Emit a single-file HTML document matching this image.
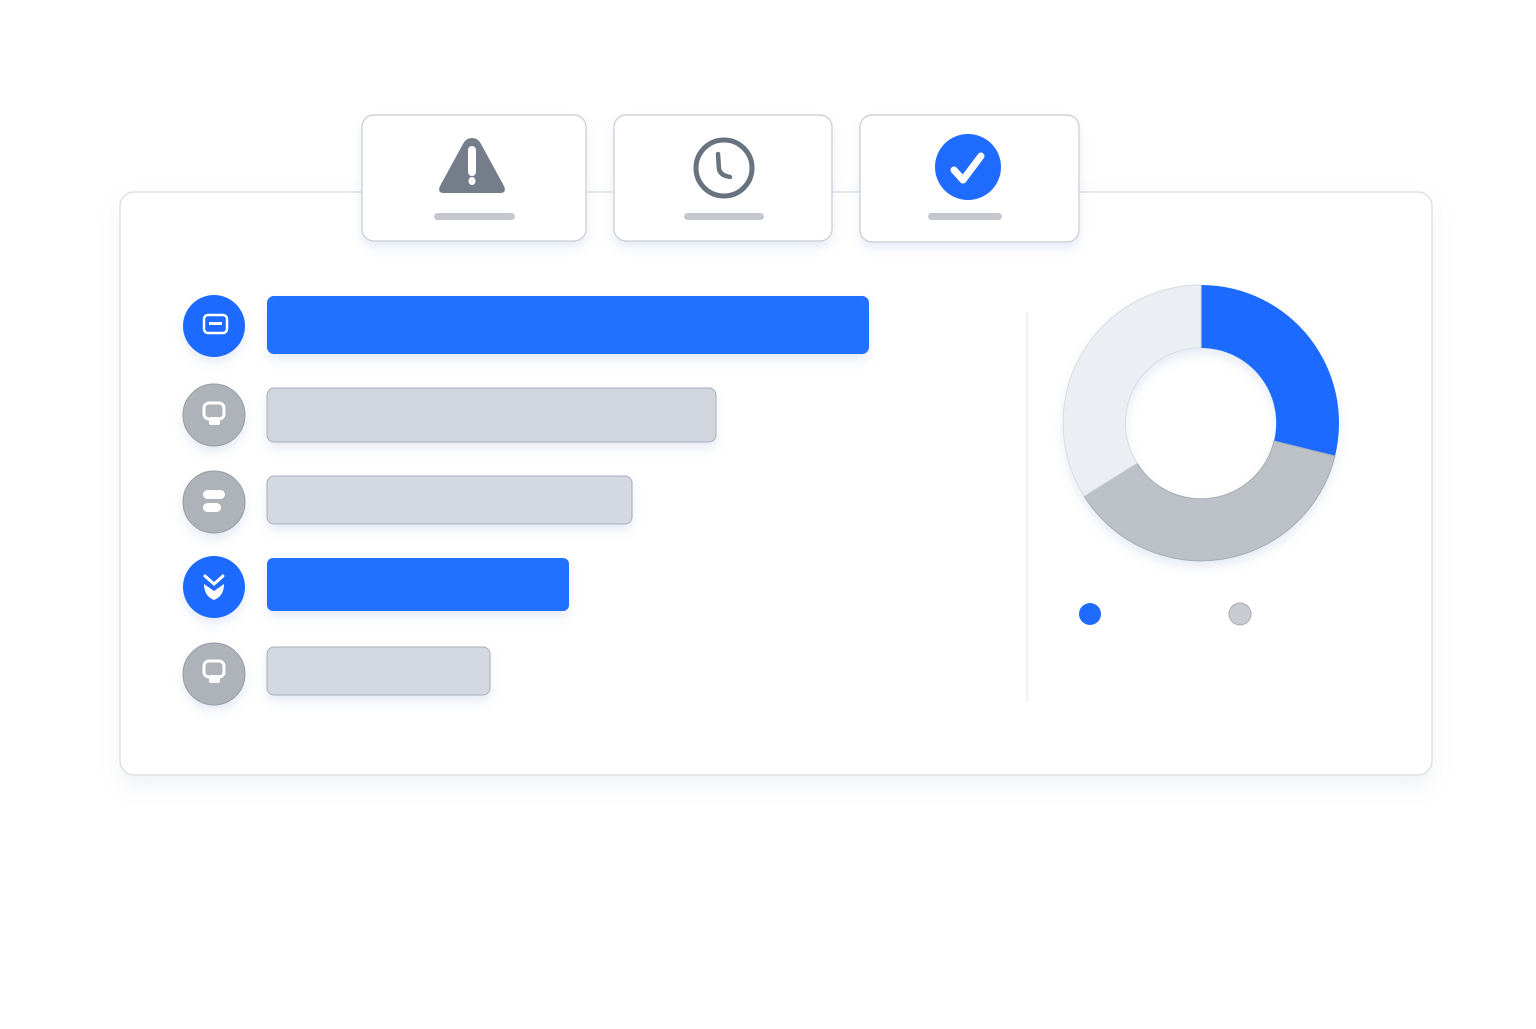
<!DOCTYPE html>
<html><head><meta charset="utf-8"><style>
html,body{margin:0;padding:0;background:#fff;}
body{width:1536px;height:1024px;position:relative;overflow:hidden;font-family:"Liberation Sans",sans-serif;}
</style></head><body>
<svg width="1536" height="1024" viewBox="0 0 1536 1024" xmlns="http://www.w3.org/2000/svg">
<defs>
<filter id="sh" x="-10%" y="-10%" width="120%" height="130%"><feDropShadow dx="0" dy="10" stdDeviation="10" flood-color="#8090b0" flood-opacity="0.12"/></filter>
<filter id="sh2" x="-20%" y="-20%" width="140%" height="160%"><feDropShadow dx="0" dy="6" stdDeviation="5" flood-color="#6080c0" flood-opacity="0.15"/></filter>
</defs>
<!-- main panel -->
<rect x="120" y="192" width="1312" height="583" rx="14" fill="#fff" stroke="#d8dbe0" stroke-width="1.2" filter="url(#sh)"/>
<line x1="1027" y1="312" x2="1027" y2="702" stroke="#eceef1" stroke-width="1.5"/>
<!-- top cards -->
<g filter="url(#sh2)">
<rect x="362" y="115" width="224" height="126" rx="12" fill="#fff" stroke="#c9ccd2" stroke-width="1.2"/>
<rect x="614" y="115" width="218" height="126" rx="12" fill="#fff" stroke="#c9ccd2" stroke-width="1.2"/>
<rect x="860" y="115" width="219" height="127" rx="12" fill="#fff" stroke="#c9ccd2" stroke-width="1.2"/>
</g>
<!-- warning -->
<path d="M472 138 Q478 138 481 144 L504 186 Q507 193 500 193 L444 193 Q437 193 440 186 L463 144 Q466 138 472 138 Z" fill="#747d8a"/>
<rect x="468" y="146" width="8" height="30" rx="4" fill="#fff"/>
<ellipse cx="472" cy="181" rx="3.5" ry="4" fill="#fff"/>
<rect x="434" y="213" width="81" height="7" rx="3.5" fill="#c4c8ce"/>
<!-- clock -->
<circle cx="724" cy="168" r="28" fill="#fff" stroke="#697380" stroke-width="5"/>
<path d="M718 154 L719 169 Q720 174 726 176 L730 177" fill="none" stroke="#697380" stroke-width="4.5" stroke-linecap="round"/>
<rect x="684" y="213" width="80" height="7" rx="3.5" fill="#c4c8ce"/>
<!-- check -->
<circle cx="968" cy="167" r="33" fill="#1f6bff"/>
<path d="M954 170 L963 180 L981 156" fill="none" stroke="#fff" stroke-width="7" stroke-linecap="round" stroke-linejoin="round"/>
<rect x="928" y="213" width="74" height="7" rx="3.5" fill="#c4c8ce"/>
<!-- bars -->
<g filter="url(#sh2)">
<rect x="267" y="296" width="602" height="58" rx="7" fill="#2070ff"/>
<rect x="267" y="388" width="449" height="54" rx="7" fill="#d1d6de" stroke="#a9afba" stroke-width="1"/>
<rect x="267" y="476" width="365" height="48" rx="7" fill="#d4d9e1" stroke="#a9afba" stroke-width="1"/>
<rect x="267" y="558" width="302" height="53" rx="6" fill="#2070ff"/>
<rect x="267" y="647" width="223" height="48" rx="7" fill="#d4d9e1" stroke="#a9afba" stroke-width="1"/>
<circle cx="214" cy="326" r="31" fill="#1f6bff"/>
<circle cx="214" cy="415" r="31" fill="#aeb2b9" stroke="#979ca5" stroke-width="1"/>
<circle cx="214" cy="502" r="31" fill="#aeb2b9" stroke="#979ca5" stroke-width="1"/>
<circle cx="214" cy="587" r="31" fill="#1f6bff"/>
<circle cx="214" cy="674" r="31" fill="#aeb2b9" stroke="#979ca5" stroke-width="1"/>
</g>
<!-- icons in circles -->
<rect x="204" y="315" width="23" height="18" rx="4" fill="none" stroke="#fff" stroke-width="2.5"/>
<rect x="209" y="322" width="13" height="3" fill="#fff"/>
<rect x="204" y="403" width="20" height="16" rx="5" fill="none" stroke="#fff" stroke-width="3"/>
<rect x="209" y="417" width="11" height="8" rx="2" fill="#fff"/>
<rect x="203" y="490" width="22" height="9" rx="4.5" fill="#fff"/>
<rect x="203" y="503" width="18" height="9" rx="4.5" fill="#fff"/>
<path d="M205 576 L214 584 L223 576" fill="none" stroke="#fff" stroke-width="3" stroke-linecap="round"/>
<path d="M204 584 L214 591 L224 584 Q224 596 214 600 Q204 596 204 584 Z" fill="#fff"/>
<rect x="204" y="661" width="20" height="16" rx="5" fill="none" stroke="#fff" stroke-width="3"/>
<rect x="209" y="675" width="11" height="8" rx="2" fill="#fff"/>
<!-- donut -->
<g filter="url(#sh2)">
<path d="M1201 285 A138 138 0 0 1 1335 456 L1274 441 A75 75 0 0 0 1201 348 Z" fill="#1f6bff"/>
<path d="M1335 456 A138 138 0 0 1 1084 496 L1137 463 A75 75 0 0 0 1274 441 Z" fill="#bcc0c7" stroke="#a8adb5" stroke-width="1"/>
<path d="M1084 496 A138 138 0 0 1 1201 285 L1201 348 A75 75 0 0 0 1137 463 Z" fill="#ebeef3" stroke="#d9dce2" stroke-width="1"/>
</g>
<circle cx="1090" cy="614" r="11" fill="#1f6bff"/>
<circle cx="1240" cy="614" r="11" fill="#c9ccd1" stroke="#a8adb5" stroke-width="1"/>
</svg>
</body></html>
